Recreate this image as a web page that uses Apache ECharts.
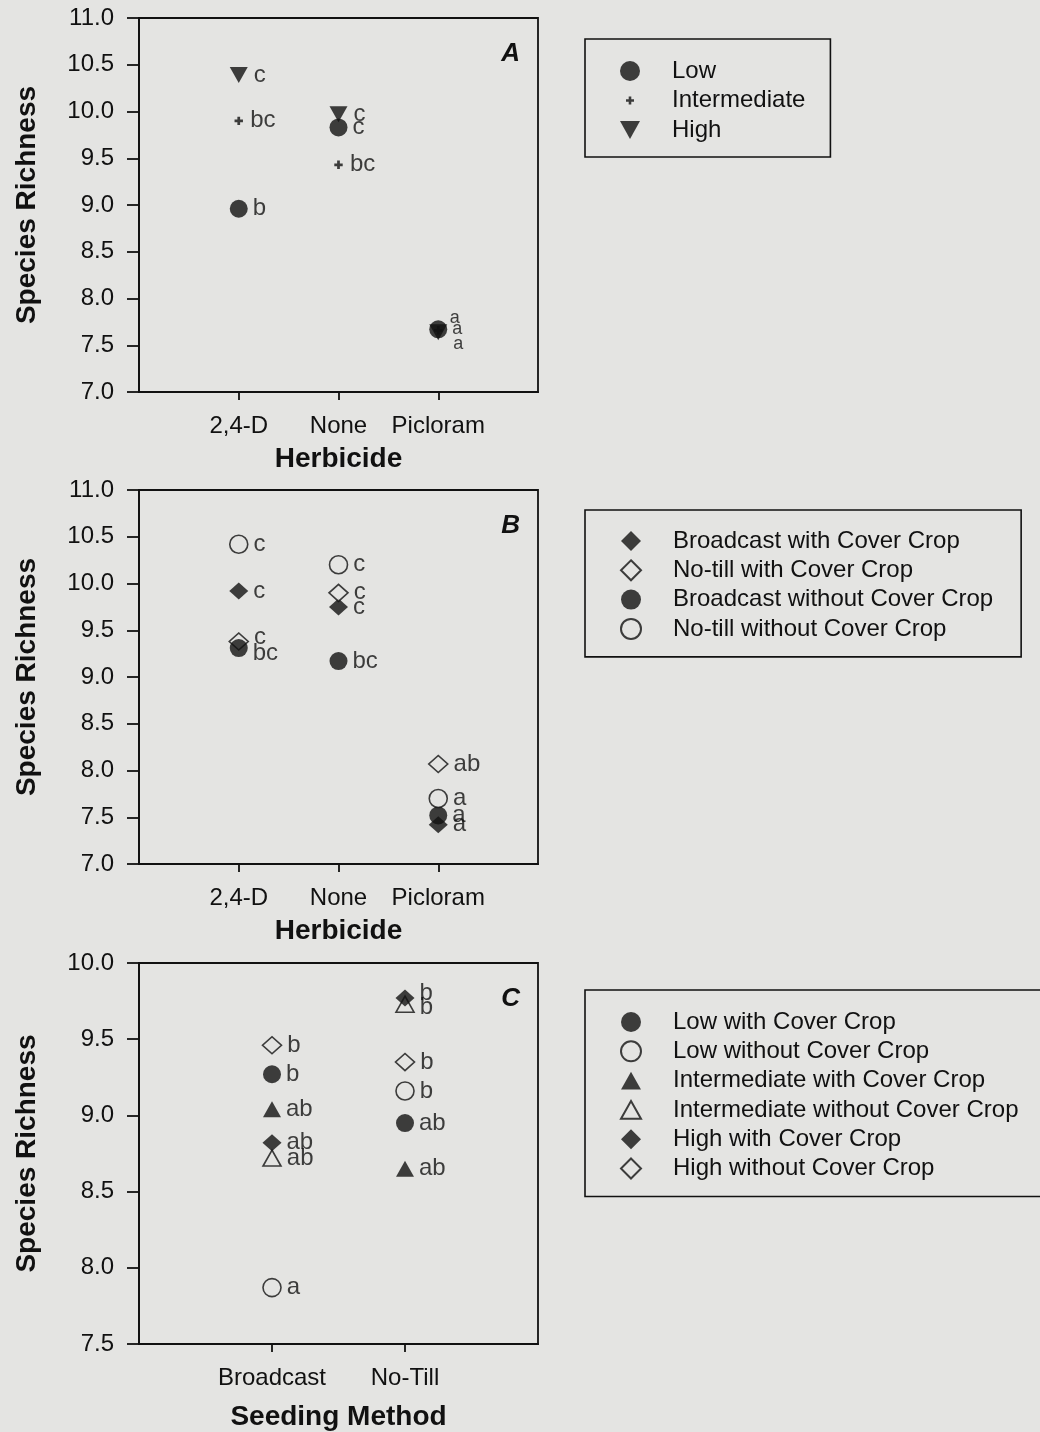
<!DOCTYPE html>
<html><head><meta charset="utf-8">
<script src="https://cdn.jsdelivr.net/npm/echarts@6/dist/echarts.min.js"></script>
<style>html,body{margin:0;padding:0;background:#e4e4e2}#c{width:1040px;height:1432px}</style>
</head><body><div id="c"></div><script>
// ---------- categories ----------
const herbicides = ['2,4-D', 'None', 'Picloram'];
const seedingMethods = ['Broadcast', 'No-Till'];

// ---------- Panel A: seeding rate x herbicide ----------
const lowA = [8.96, 9.83, 7.67];
const intermediateA = [9.90, 9.43, 7.66];
const highA = [10.39, 9.97, 7.64];
const lettersLowA = ['b', 'c', 'a'];
const lettersIntermediateA = ['bc', 'bc', 'a'];
const lettersHighA = ['c', 'c', 'a'];

// ---------- Panel B: seeding method x cover crop x herbicide ----------
const broadcastWithB = [9.92, 9.75, 7.42];
const noTillWithB = [9.38, 9.90, 8.07];
const broadcastWithoutB = [9.31, 9.17, 7.52];
const noTillWithoutB = [10.42, 10.20, 7.70];
const lettersBroadcastWithB = ['c', 'c', 'a'];
const lettersNoTillWithB = ['c', 'c', 'ab'];
const lettersBroadcastWithoutB = ['bc', 'bc', 'a'];
const lettersNoTillWithoutB = ['c', 'c', 'a'];

// ---------- Panel C: seeding rate x cover crop x seeding method ----------
const lowWithC = [9.27, 8.95];
const lowWithoutC = [7.87, 9.16];
const intWithC = [9.04, 8.65];
const intWithoutC = [8.72, 9.73];
const highWithC = [8.82, 9.77];
const highWithoutC = [9.46, 9.35];
const lettersLowWithC = ['b', 'ab'];
const lettersLowWithoutC = ['a', 'b'];
const lettersIntWithC = ['ab', 'ab'];
const lettersIntWithoutC = ['ab', 'b'];
const lettersHighWithC = ['ab', 'b'];
const lettersHighWithoutC = ['b', 'b'];

// ---------- styles ----------
const BG = '#e4e4e2';
const INK = '#111111';
const FONT = '"Liberation Sans", Arial, Helvetica, sans-serif';
const SYM = {
  circle: { symbol: 'circle', size: 18 },
  plus: { symbol: 'path://M0 0 L0 0 M20 20 L20 20 M8.7 6 L11.3 6 L11.3 8.7 L14 8.7 L14 11.3 L11.3 11.3 L11.3 14 L8.7 14 L8.7 11.3 L6 11.3 L6 8.7 L8.7 8.7 Z', size: 21 },
  triDown: { symbol: 'path://M0 0 L18 0 L9 16 Z', size: [18, 16] },
  triUp: { symbol: 'path://M9 0 L18 16 L0 16 Z', size: [18, 16] },
  diamond: { symbol: 'diamond', size: [19, 17] }
};
// label nudges for crowded points (style only)
const nudges = {
  'Low': [null, null, { offset: [0, 0], fontSize: 18 }],
  'Intermediate': [null, null, { offset: [0, -12], fontSize: 18 }],
  'High': [null, null, { offset: [0, 12], fontSize: 18 }],
  'No-till with Cover Crop': [{ offset: [0, -4] }, null, null],
  'Broadcast without Cover Crop': [{ offset: [0, 5] }, null, null],
  'Intermediate without Cover Crop': [null, { offset: [0, 3] }],
  'High with Cover Crop': [null, { offset: [0, -5] }]
};

function series(name, idx, cats, vals, letters, sym, open, dist) {
  const nz = nudges[name] || [];
  return {
    name: name, type: 'scatter', xAxisIndex: idx, yAxisIndex: idx,
    symbol: SYM[sym].symbol, symbolSize: SYM[sym].size,
    itemStyle: open ? { color: BG, borderColor: INK, borderWidth: 1.6 } : { color: INK, borderWidth: 0 },
    label: { show: true, position: 'right', distance: dist == null ? 5 : dist, fontSize: 24, color: INK, fontFamily: FONT,
      formatter: p => p.value[2] },
    emphasis: { disabled: true },
    data: vals.map((v, i) => {
      const d = { value: [cats[i], v, letters[i]] };
      if (nz[i]) d.label = nz[i];
      return d;
    })
  };
}

const grids = [
  { left: 139, top: 18, width: 399, height: 374 },
  { left: 139, top: 490, width: 399, height: 374 },
  { left: 139, top: 963, width: 399, height: 382 }
].map(g => Object.assign(g, { show: true, borderColor: INK, borderWidth: 1.8, backgroundColor: 'transparent' }));

const lineStyle = { color: INK, width: 1.8 };
function xAxis(idx, cats, name, gap) {
  const data = [''].concat(cats, [' ']);
  const real = (i, v) => v.trim() !== '';
  return {
    type: 'category', gridIndex: idx, data: data, boundaryGap: false,
    axisLine: { show: true, onZero: false, lineStyle },
    axisTick: { show: true, length: 8, interval: real, lineStyle },
    axisLabel: { interval: real, fontSize: 24, color: INK, fontFamily: FONT, margin: 22 },
    splitLine: { show: false },
    name: name, nameLocation: 'middle', nameGap: gap,
    nameTextStyle: { fontSize: 28, fontWeight: 'bold', color: INK, fontFamily: FONT }
  };
}
function yAxis(idx, min, max) {
  return {
    type: 'value', gridIndex: idx, min: min, max: max, interval: 0.5,
    axisLine: { show: true, onZero: false, lineStyle },
    axisTick: { show: true, length: 12, lineStyle },
    axisLabel: { formatter: v => v.toFixed(1), fontSize: 24, color: INK, fontFamily: FONT, margin: 25,
      showMinLabel: true, showMaxLabel: true },
    splitLine: { show: false },
    name: 'Species Richness', nameLocation: 'middle', nameGap: 98,
    nameTextStyle: { fontSize: 28, fontWeight: 'bold', color: INK, fontFamily: FONT }
  };
}
function legend(names, top, padding, gap) {
  return {
    data: names, orient: 'vertical', left: 585, top: top, padding: padding,
    itemWidth: 20, itemHeight: 20, itemGap: gap, selectedMode: false,
    borderColor: INK, borderWidth: 1.6, backgroundColor: 'transparent',
    textStyle: { fontSize: 24, color: INK, fontFamily: FONT, lineHeight: 18, padding: [0, 0, 0, 27] }
  };
}

const option = {
  backgroundColor: BG,
  animation: false,
  grid: grids,
  xAxis: [xAxis(0, herbicides, 'Herbicide', 53), xAxis(1, herbicides, 'Herbicide', 53), xAxis(2, seedingMethods, 'Seeding Method', 59)],
  yAxis: [yAxis(0, 7, 11), yAxis(1, 7, 11), yAxis(2, 7.5, 10)],
  legend: [
    legend(['Low', 'Intermediate', 'High'], 39, [20, 25, 15, 35], 5.5),
    legend(['Broadcast with Cover Crop', 'No-till with Cover Crop', 'Broadcast without Cover Crop', 'No-till without Cover Crop'], 510, [19, 28, 16, 35], 5.3),
    legend(['Low with Cover Crop', 'Low without Cover Crop', 'Intermediate with Cover Crop', 'Intermediate without Cover Crop', 'High with Cover Crop', 'High without Cover Crop'], 990, [20, 28, 16, 35], 5.3)
  ],
  graphic: [
    { type: 'text', right: 520, top: 41, style: { text: 'A', font: 'italic bold 26px ' + FONT, fill: INK } },
    { type: 'text', right: 520, top: 513, style: { text: 'B', font: 'italic bold 26px ' + FONT, fill: INK } },
    { type: 'text', right: 520, top: 986, style: { text: 'C', font: 'italic bold 26px ' + FONT, fill: INK } }
  ],
  series: [
    series('Low', 0, herbicides, lowA, lettersLowA, 'circle', false, 5),
    series('Intermediate', 0, herbicides, intermediateA, lettersIntermediateA, 'plus', false, 1),
    series('High', 0, herbicides, highA, lettersHighA, 'triDown', false, 6),

    series('Broadcast with Cover Crop', 1, herbicides, broadcastWithB, lettersBroadcastWithB, 'diamond', false, 5),
    series('No-till with Cover Crop', 1, herbicides, noTillWithB, lettersNoTillWithB, 'diamond', true, 5),
    series('Broadcast without Cover Crop', 1, herbicides, broadcastWithoutB, lettersBroadcastWithoutB, 'circle', false, 5),
    series('No-till without Cover Crop', 1, herbicides, noTillWithoutB, lettersNoTillWithoutB, 'circle', true, 5),

    series('Low with Cover Crop', 2, seedingMethods, lowWithC, lettersLowWithC, 'circle', false, 5),
    series('Low without Cover Crop', 2, seedingMethods, lowWithoutC, lettersLowWithoutC, 'circle', true, 5),
    series('Intermediate with Cover Crop', 2, seedingMethods, intWithC, lettersIntWithC, 'triUp', false, 5),
    series('Intermediate without Cover Crop', 2, seedingMethods, intWithoutC, lettersIntWithoutC, 'triUp', true, 5),
    series('High with Cover Crop', 2, seedingMethods, highWithC, lettersHighWithC, 'diamond', false, 5),
    series('High without Cover Crop', 2, seedingMethods, highWithoutC, lettersHighWithoutC, 'diamond', true, 5)
  ]
};
const chart = echarts.init(document.getElementById('c'), null, { renderer: 'canvas' });
chart.setOption(option);
</script></body></html>
